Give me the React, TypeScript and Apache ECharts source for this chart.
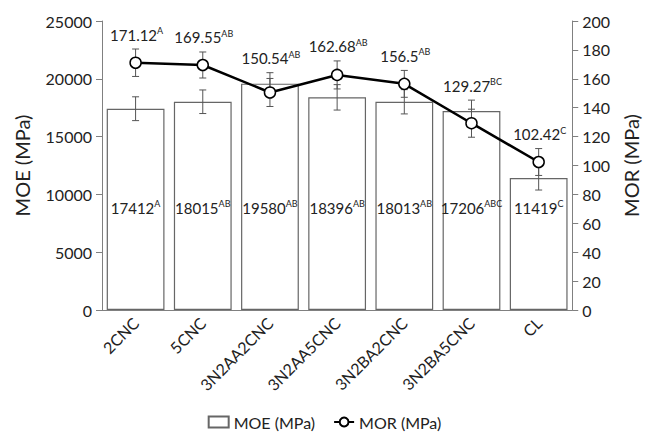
import React, { useEffect, useRef } from "react";
import * as echarts from "echarts";

const categories = ["2CNC", "5CNC", "3N2AA2CNC", "3N2AA5CNC", "3N2BA2CNC", "3N2BA5CNC", "CL"];
const moeValues = [17412, 18015, 19580, 18396, 18013, 17206, 11419];
const moeErrors = [1030, 1020, 950, 1100, 1050, 950, 1040];
const moeLetters = ["A", "AB", "AB", "AB", "AB", "ABC", "C"];
const morValues = [171.12, 169.55, 150.54, 162.68, 156.5, 129.27, 102.42];
const morErrors = [9.5, 9, 9.7, 9.7, 9.3, 9.7, 9.3];
const morLetters = ["A", "AB", "AB", "AB", "AB", "BC", "C"];
const moeTicks = { min: 0, max: 25000, interval: 5000 };
const morTicks = { min: 0, max: 200, interval: 20 };

const FONT = "Lato, 'Open Sans', sans-serif";

const rich = {
  v: { fontSize: 15, fontFamily: FONT, fill: "#222", color: "#222" },
  s: { fontSize: 9, fontFamily: FONT, fill: "#222", color: "#222", verticalAlign: "top", lineHeight: 17 },
};

// highest MOE error-bar end, expressed in MOR axis units (so labels clear both bars)
const moeTopInMor = moeValues.map((v, i) => ((v + moeErrors[i]) * morTicks.max) / moeTicks.max);

function errorSeries(
  values: number[],
  errors: number[],
  yAxisIndex: number,
  z: number,
  letters?: string[],
  otherTop?: number[]
) {
  return {
    type: "custom",
    yAxisIndex,
    z,
    silent: true,
    data: values.map((v, i) => [i, v, errors[i], otherTop ? otherTop[i] : v + errors[i]]),
    renderItem: (params: any, api: any) => {
      const x = api.value(0);
      const v = api.value(1);
      const e = api.value(2);
      const top = api.coord([x, v + e]);
      const bot = api.coord([x, v - e]);
      const cap = 3.5;
      const style = { stroke: "#555", lineWidth: 1 };
      const children: any[] = [
        { type: "line", shape: { x1: top[0], y1: top[1], x2: bot[0], y2: bot[1] }, style },
        { type: "line", shape: { x1: top[0] - cap, y1: top[1], x2: top[0] + cap, y2: top[1] }, style },
        { type: "line", shape: { x1: bot[0] - cap, y1: bot[1], x2: bot[0] + cap, y2: bot[1] }, style },
      ];
      if (letters) {
        const i = params.dataIndex;
        const highest = Math.max(v + e, api.value(3));
        const labelAt = api.coord([x, highest]);
        children.push({
          type: "text",
          x: top[0] + 1,
          y: labelAt[1] - 6,
          style: {
            text: `{v|${values[i]}}{s|${letters[i]}}`,
            rich,
            align: "center",
            verticalAlign: "bottom",
            fill: "#222",
            fontFamily: FONT,
            fontSize: 15,
          },
        });
      }
      return { type: "group", children };
    },
  };
}

export default function App() {
  const ref = useRef<HTMLDivElement>(null);
  useEffect(() => {
    if (!ref.current) return;
    const chart = echarts.init(ref.current, null, { renderer: "svg" });
    const plain = (v: number) => String(v);
    chart.setOption({
      animation: false,
      backgroundColor: "#fff",
      textStyle: { fontFamily: FONT, color: "#222" },
      grid: { left: 102, right: 72, top: 21, bottom: 126, containLabel: false },
      legend: {
        bottom: 1,
        left: "center",
        itemGap: 18,
        itemWidth: 20,
        itemHeight: 11,
        textStyle: { fontSize: 16, fontFamily: FONT, color: "#222" },
        data: [
          { name: "MOE (MPa)", icon: "rect" },
          { name: "MOR (MPa)" },
        ],
      },
      xAxis: {
        type: "category",
        data: categories,
        axisLine: { lineStyle: { color: "#808080", width: 1 } },
        axisTick: { show: false },
        axisLabel: { rotate: 45, fontSize: 16, fontFamily: FONT, color: "#222", margin: 10, interval: 0 },
      },
      yAxis: [
        {
          type: "value",
          ...moeTicks,
          name: "MOE (MPa)",
          nameLocation: "middle",
          nameGap: 70,
          nameTextStyle: { fontSize: 20, fontFamily: FONT, color: "#222" },
          splitLine: { show: false },
          axisLine: { show: true, lineStyle: { color: "#808080" } },
          axisTick: { show: true, length: 6, lineStyle: { color: "#808080" } },
          axisLabel: { fontSize: 16, fontFamily: FONT, color: "#222", margin: 10, formatter: plain },
        },
        {
          type: "value",
          ...morTicks,
          name: "MOR (MPa)",
          nameLocation: "middle",
          nameGap: 46,
          nameTextStyle: { fontSize: 20, fontFamily: FONT, color: "#222" },
          splitLine: { show: false },
          axisLine: { show: true, lineStyle: { color: "#808080" } },
          axisTick: { show: true, length: 6, lineStyle: { color: "#808080" } },
          axisLabel: { fontSize: 16, fontFamily: FONT, color: "#222", margin: 10, formatter: plain },
        },
      ],
      series: [
        {
          name: "MOE (MPa)",
          type: "bar",
          yAxisIndex: 0,
          z: 2,
          barCategoryGap: "14%",
          data: moeValues,
          itemStyle: { color: "#fff", borderColor: "#666", borderWidth: 1.2 },
          label: {
            show: true,
            position: "insideBottom",
            distance: 94,
            formatter: (p: any) => `{v|${moeValues[p.dataIndex]}}{s|${moeLetters[p.dataIndex]}}`,
            rich,
          },
        },
        errorSeries(moeValues, moeErrors, 0, 3),
        errorSeries(morValues, morErrors, 1, 4, morLetters, moeTopInMor),
        {
          name: "MOR (MPa)",
          type: "line",
          yAxisIndex: 1,
          z: 5,
          data: morValues,
          symbol: "circle",
          symbolSize: 11,
          lineStyle: { color: "#000", width: 2.5 },
          itemStyle: { color: "#fff", borderColor: "#000", borderWidth: 1.5 },
        },
      ],
    });
    return () => chart.dispose();
  }, []);
  return <div ref={ref} style={{ position: "fixed", left: 0, top: 0, width: 649, height: 436 }} />;
}
